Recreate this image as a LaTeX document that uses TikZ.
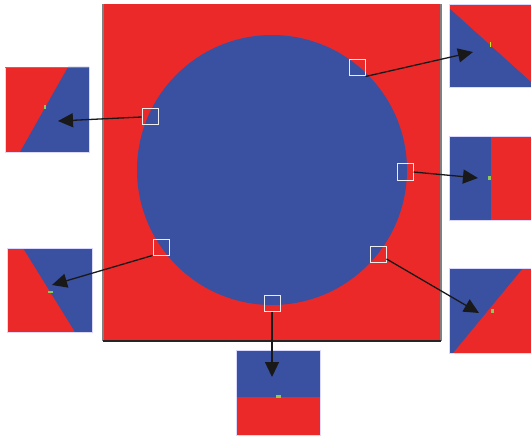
\documentclass[tikz,border=0pt]{standalone}
\usetikzlibrary{arrows.meta}
\definecolor{domred}{RGB}{236,41,41}
\definecolor{domblue}{RGB}{58,80,160}
\definecolor{probedot}{RGB}{140,200,90}
\begin{document}
\begin{tikzpicture}[x=1pt, y=-1pt,
    probe/.style={draw=white!85!gray, line width=1pt, minimum size=16pt, inner sep=0pt},
    zoomarrow/.style={-{Triangle[length=15pt,width=14pt]}, line width=1.3pt, black!90},
    insetframe/.style={draw=blue!15!white, line width=0.6pt}]
    \useasboundingbox (0,0) rectangle (531,436);

    % Dominio
    \fill[domred] (103,4) rectangle (441,341);
    \fill[domblue] (272,170) circle (135pt);
    \draw[gray, line width=1.5pt] (103,4) -- (103,341);
    \draw[gray, line width=1.5pt] (441,4) -- (441,341);
    \draw[black!85, line width=1.5pt] (103,341) -- (441,341);

    % Ventanas sobre la interfaz
    \node[probe] (pTR) at (357,68) {};
    \node[probe] (pR)  at (405,172) {};
    \node[probe] (pBR) at (378,254) {};
    \node[probe] (pB)  at (272,303) {};
    \node[probe] (pBL) at (161,247) {};
    \node[probe] (pTL) at (150,117) {};

    % Ampliaciones
    % arriba a la derecha
    \fill[domred] (449,4) rectangle (531,87);
    \fill[domblue] (449,8) -- (531,82) -- (531,87) -- (449,87) -- cycle;
    \draw[insetframe] (449,4) rectangle (531,87);
    \fill[yellow!80!green] (489.5,42) rectangle (491,47);
    % derecha
    \fill[domred] (449,136) rectangle (531,220);
    \fill[domblue] (449,136) rectangle (491,220);
    \draw[insetframe] (449,136) rectangle (531,220);
    \fill[probedot] (488,176) rectangle (490.5,180);
    % abajo a la derecha
    \fill[domred] (449,268) rectangle (531,353);
    \fill[domblue] (449,268) -- (523,268) -- (453,353) -- (449,353) -- cycle;
    \draw[insetframe] (449,268) rectangle (531,353);
    \fill[probedot] (491,309) rectangle (493.5,313);
    % abajo
    \fill[domred] (236,350) rectangle (320,435);
    \fill[domblue] (236,350) rectangle (320,397);
    \draw[insetframe] (236,350) rectangle (320,435);
    \fill[probedot] (276,395) rectangle (280.5,397.5);
    % abajo a la izquierda
    \fill[domred] (7,248) rectangle (92,332);
    \fill[domblue] (23,248) -- (92,248) -- (92,332) -- (75,332) -- cycle;
    \draw[insetframe] (7,248) rectangle (92,332);
    \fill[probedot] (48,290.5) rectangle (52.5,293);
    % arriba a la izquierda
    \fill[domred] (5,67) rectangle (89,152);
    \fill[domblue] (68,67) -- (89,67) -- (89,152) -- (20,152) -- cycle;
    \draw[insetframe] (5,67) rectangle (89,152);
    \draw[gray, line width=0.8pt] (5,67) -- (89,67);
    \fill[probedot] (43.5,105) rectangle (46,109);

    % Puntas de flecha
    \coordinate (tTR) at (473,52);
    \coordinate (tR)  at (478,178);
    \coordinate (tBR) at (479,313);
    \coordinate (tB)  at (272,377);
    \coordinate (tBL) at (52,285);
    \coordinate (tTL) at (58,121);

    \draw[zoomarrow] (pTR.south east) -- (tTR);
    \draw[zoomarrow] (pR.east) -- (tR);
    \draw[zoomarrow] (pBR) -- (tBR);
    \draw[zoomarrow] (pB.south) -- (tB);
    \draw[zoomarrow] (pBL.south west) -- (tBL);
    \draw[zoomarrow] (pTL.west) -- (tTL);
\end{tikzpicture}
\end{document}
